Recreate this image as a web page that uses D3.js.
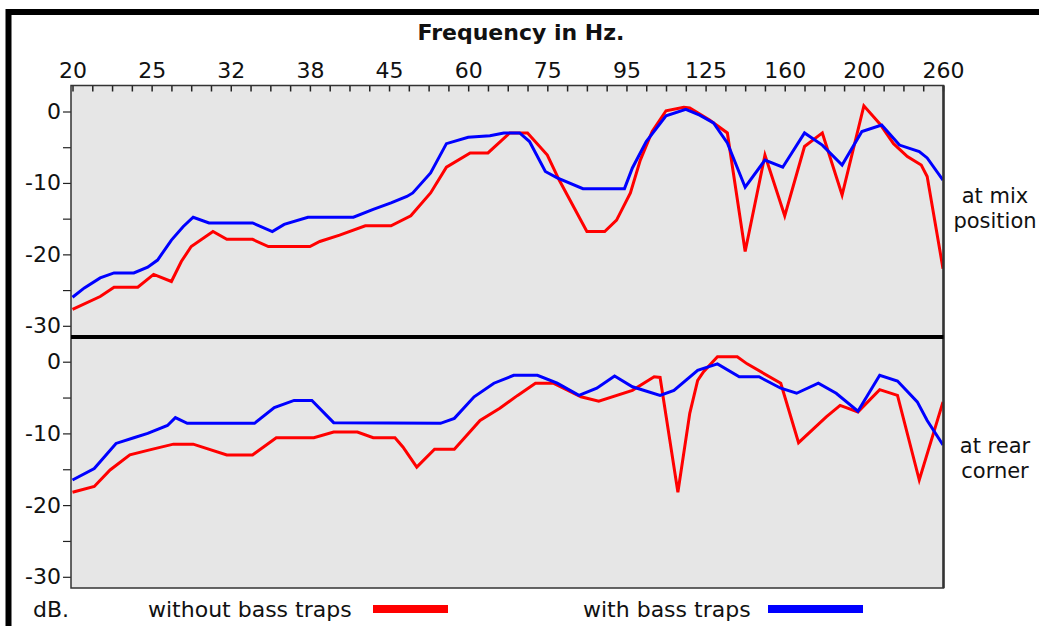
<!DOCTYPE html>
<html>
<head>
<meta charset="utf-8">
<script src="https://cdn.jsdelivr.net/npm/d3@7"></script>
<style>
  html, body { margin: 0; padding: 0; background: #fff; }
  svg { display: block; }
  text { font-family: "DejaVu Sans", sans-serif; fill: #111; }
</style>
</head>
<body>
<svg id="chart" width="1039" height="626"></svg>
<script>
// ---- Data ----
// x positions are in tick units along the frequency axis (4 ticks between labels)
const freqLabels = ["20","25","32","38","45","60","75","95","125","160","200","260"];
const dbTicks = [0, -5, -10, -15, -20, -25, -30];

// at mix position
const mixWithoutX  = [0,1.4,2.1,3.3,4.1,5,5.5,6,7.1,7.8,9.1,9.9,12,12.5,13.5,14.8,16.1,17.1,18.1,18.9,20.1,21,22.1,23,24,24.6,26,26.9,27.5,28.2,28.7,29.3,30,30.9,31.2,32.2,33.1,34,35,36,37,37.9,38.9,40,40.8,41.5,42.2,42.9,43.2,44];
const mixWithoutDb = [-27.7,-25.9,-24.6,-24.6,-22.8,-23.8,-21,-18.9,-16.8,-17.9,-17.9,-18.9,-18.9,-18.2,-17.3,-16,-16,-14.6,-11.4,-7.8,-5.8,-5.8,-3,-3,-6.1,-9.6,-16.8,-16.8,-15.2,-11.4,-6.8,-2.8,0.1,0.6,0.5,-1.2,-3,-19.6,-6.1,-14.6,-4.9,-3,-11.7,0.8,-1.7,-4.5,-6.3,-7.5,-9.1,-22];

const mixWithX  = [0,0.6,1.4,2.1,3.1,3.8,4.3,5,5.6,6.1,6.9,9.1,10.1,10.7,11.9,14.2,15.2,16.1,16.9,17.2,18.1,18.9,20,21.1,21.8,22.6,23.1,23.9,24.5,25.8,27.9,28.3,29,30,31,31.7,32.4,33.1,34,35,35.9,37,37.9,38.9,39.9,40.9,41.8,42.8,43.2,44];
const mixWithDb = [-26,-24.7,-23.3,-22.6,-22.6,-21.8,-20.8,-18,-16.1,-14.8,-15.6,-15.6,-16.8,-15.8,-14.8,-14.8,-13.7,-12.8,-11.9,-11.4,-8.6,-4.5,-3.6,-3.4,-3,-3,-4.2,-8.4,-9.3,-10.8,-10.8,-7.9,-4.2,-0.6,0.3,-0.5,-1.6,-4.4,-10.6,-6.8,-7.8,-3,-4.7,-7.5,-2.8,-1.9,-4.7,-5.6,-6.5,-9.6];

// at rear corner
const rearWithoutX  = [0,1.1,1.9,2.9,3.9,5.1,6.1,7.8,9.1,10.3,12.2,13.2,14.4,15.2,16.3,16.7,17.4,18.3,19.3,20.6,21.6,22.5,23.4,24.3,25.7,26.6,28.3,29.4,29.7,30.6,31.2,31.6,31.9,32.6,33.6,34.1,35.8,36.7,38.1,38.8,39.7,40.8,41.7,42.8,44];
const rearWithoutDb = [-18.2,-17.4,-15.1,-13,-12.3,-11.5,-11.5,-13,-13,-10.6,-10.6,-9.8,-9.8,-10.6,-10.6,-11.9,-14.7,-12.2,-12.2,-8.2,-6.5,-4.7,-3,-3,-4.9,-5.5,-4,-2.1,-2.2,-18.2,-7.2,-2.6,-1.4,0.7,0.7,-0.3,-3,-11.3,-7.7,-6.1,-7,-3.9,-4.7,-16.5,-5.6];

const rearWithX  = [0,1.1,2.2,3.1,3.8,4.8,5.2,5.8,9.2,10.2,11.2,12.1,13.2,18.6,19.3,20.3,21.3,22.3,23.5,24.5,25.6,26.5,27.4,28.3,29.7,30.4,31.6,32.6,33.7,34.7,35.8,36.6,37.7,38.6,39.7,40.8,41.7,42.7,43.2,44];
const rearWithDb = [-16.5,-14.9,-11.4,-10.6,-10,-8.9,-7.8,-8.6,-8.6,-6.4,-5.4,-5.4,-8.5,-8.6,-7.9,-4.9,-3,-1.9,-1.9,-3,-4.7,-3.7,-2,-3.5,-4.7,-4,-1.2,-0.3,-2.1,-2.1,-3.7,-4.4,-3,-4.4,-6.9,-1.9,-2.7,-5.6,-8.2,-11.6];

const seriesNames = ["without bass traps", "with bass traps"];
const seriesColors = ["#ff0000", "#0000ff"];
const panelLabels = [["at mix", "position"], ["at rear", "corner"]];

// ---- Drawing ----
const svg = d3.select("#chart");
const W = 1039, H = 626;

// outer frame (top and left edges visible)
svg.append("path")
  .attr("d", `M8.5,${H} L8.5,12 L${W},12`)
  .attr("fill", "none").attr("stroke", "#000").attr("stroke-width", 6);

const plotL = 71, plotR = 943.5, plotT = 85.5, plotB = 588, sep = 337;

const x = d3.scaleLinear().domain([0, 44]).range([72.5, 943]);

const panels = [
  { y: d3.scaleLinear().domain([0, -30]).range([111.5, 325.8]), top: plotT, bottom: sep,
    data: [[mixWithoutX, mixWithoutDb], [mixWithX, mixWithDb]], label: panelLabels[0], lab: [203, 228] },
  { y: d3.scaleLinear().domain([0, -30]).range([361.7, 576.8]), top: sep, bottom: plotB,
    data: [[rearWithoutX, rearWithoutDb], [rearWithX, rearWithDb]], label: panelLabels[1], lab: [453, 478] }
];

// background
svg.append("rect")
  .attr("x", plotL).attr("y", plotT)
  .attr("width", plotR - plotL).attr("height", plotB - plotT)
  .attr("fill", "#e6e6e6");

// top frequency axis
const xAxis = d3.axisTop(x)
  .tickValues(d3.range(0, 45))
  .tickSize(-6)
  .tickPadding(8)
  .tickFormat(d => d % 4 === 0 ? freqLabels[d / 4] : "");
const gx = svg.append("g").attr("transform", `translate(0,${plotT})`).call(xAxis);
gx.select(".domain").remove();
gx.selectAll(".tick line").attr("stroke", "#222").attr("stroke-width", 1.5);
gx.selectAll(".tick text").attr("font-size", 22).attr("fill", "#111")
  .style("font-family", '"DejaVu Sans", sans-serif');

// title
svg.append("text")
  .attr("x", 521).attr("y", 40)
  .attr("text-anchor", "middle")
  .attr("font-size", 22).attr("font-weight", "bold")
  .text("Frequency in Hz.");

const line = (yScale) => d3.line().x(d => x(d[0])).y(d => yScale(d[1]));

panels.forEach(p => {
  const yAxis = d3.axisLeft(p.y)
    .tickValues(dbTicks)
    .tickSize(8)
    .tickPadding(2)
    .tickFormat(d => d % 10 === 0 ? String(d) : "");
  const gy = svg.append("g").attr("transform", `translate(${plotL},0)`).call(yAxis);
  gy.select(".domain").remove();
  gy.selectAll(".tick line").attr("stroke", "#222").attr("stroke-width", 1.2);
  gy.selectAll(".tick text").attr("font-size", 22).attr("fill", "#111")
    .style("font-family", '"DejaVu Sans", sans-serif');

  // clip to panel
  const cid = "clip" + p.top;
  svg.append("clipPath").attr("id", cid).append("rect")
    .attr("x", plotL).attr("y", p.top).attr("width", plotR - plotL).attr("height", p.bottom - p.top);

  const g = svg.append("g").attr("clip-path", `url(#${cid})`);
  p.data.forEach((s, i) => {
    const pts = s[0].map((xv, k) => [xv, s[1][k]]);
    g.append("path")
      .datum(pts)
      .attr("d", line(p.y))
      .attr("fill", "none")
      .attr("stroke", seriesColors[i])
      .attr("stroke-width", 3)
      .attr("stroke-linejoin", "miter");
  });

  // right-side label
  p.label.forEach((t, k) => {
    svg.append("text")
      .attr("x", 995).attr("y", p.lab[k])
      .attr("text-anchor", "middle")
      .attr("font-size", 21)
      .text(t);
  });
});

// plot frame
svg.append("rect")
  .attr("x", plotL).attr("y", plotT)
  .attr("width", plotR - plotL).attr("height", plotB - plotT)
  .attr("fill", "none").attr("stroke", "#333").attr("stroke-width", 1.5);
svg.append("line")
  .attr("x1", plotR).attr("x2", plotR).attr("y1", plotT).attr("y2", plotB)
  .attr("stroke", "#333").attr("stroke-width", 2.5);
// separator
svg.append("line")
  .attr("x1", plotL).attr("x2", plotR).attr("y1", sep).attr("y2", sep)
  .attr("stroke", "#000").attr("stroke-width", 4);

// legend
svg.append("text").attr("x", 33).attr("y", 617).attr("font-size", 22).text("dB.");
const legendItems = [
  { tx: 148, bx: 373, bw: 75 },
  { tx: 583, bx: 768, bw: 95 }
];
legendItems.forEach((l, i) => {
  svg.append("text").attr("x", l.tx).attr("y", 617).attr("font-size", 22).text(seriesNames[i]);
  svg.append("rect").attr("x", l.bx).attr("y", 605).attr("width", l.bw).attr("height", 8)
    .attr("fill", seriesColors[i]);
});
</script>
</body>
</html>
